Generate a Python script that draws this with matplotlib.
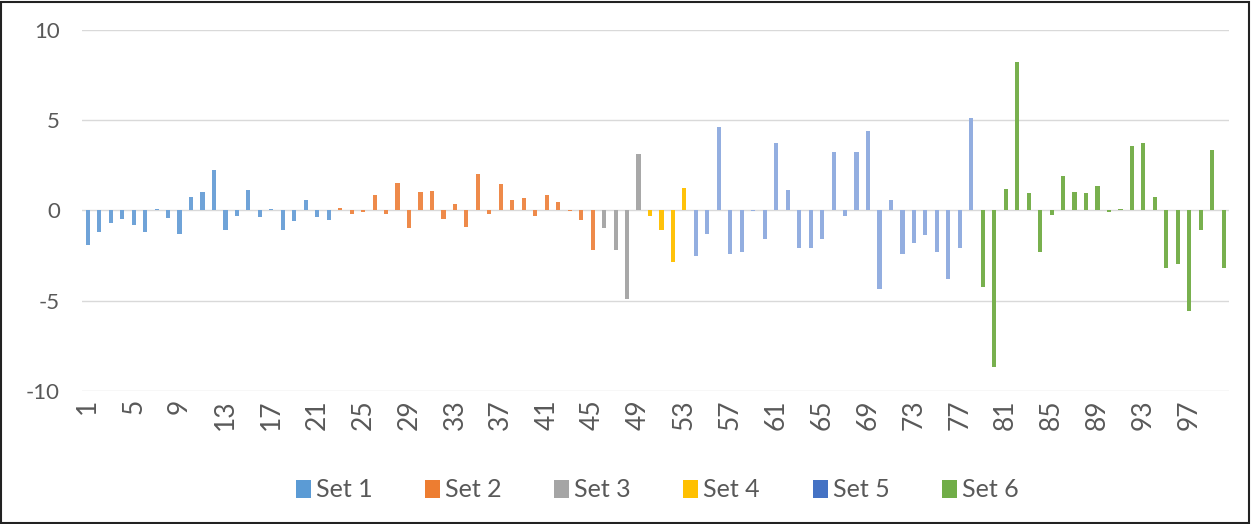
import matplotlib.pyplot as plt
from matplotlib.patches import Patch, Rectangle

plt.rcParams['font.family'] = ['Lato', 'DejaVu Sans']
plt.rcParams['axes.unicode_minus'] = False

# values per set, in category order; first category of each set
set1_start = 1
set1 = [-1.9, -1.2, -0.7, -0.5, -0.8, -1.2, 0.1, -0.4, -1.3, 0.75, 1.0, 2.25,
        -1.1, -0.3, 1.15, -0.35, 0.05, -1.1, -0.6, 0.57, -0.35, -0.55]
set2_start = 23
set2 = [0.15, -0.2, -0.1, 0.85, -0.22, 1.5, -1.0, 1.0, 1.05, -0.45, 0.37, -0.92,
        2.0, -0.2, 1.44, 0.57, 0.67, -0.3, 0.85, 0.46, -0.05, -0.54, -2.2]
set3_start = 46
set3 = [-1.0, -2.17, -4.9, 3.15]
set4_start = 50
set4 = [-0.3, -1.1, -2.87, 1.26]
set5_start = 54
set5 = [-2.54, -1.3, 4.63, -2.39, -2.3, -0.05, -1.6, 3.76, 1.13, -2.1, -2.1,
        -1.6, 3.24, -0.3, 3.24, 4.4, -4.35, 0.56, -2.39, -1.8, -1.37, -2.3,
        -3.78, -2.1, 5.1]
set6_start = 79
set6 = [-4.26, -8.7, 1.17, 8.2, 0.94, -2.28, -0.28, 1.9, 1.04, 0.94, 1.35,
        -0.1, 0.1, 3.57, 3.72, 0.74, -3.2, -2.98, -5.57, -1.1, 3.33, -3.2]

set_names = ['Set 1', 'Set 2', 'Set 3', 'Set 4', 'Set 5', 'Set 6']
legend_colors = ['#5b9bd5', '#ed7d31', '#a5a5a5', '#ffc000', '#4472c4', '#70ad47']
bar_colors = ['#6fa3d8', '#ee8a4a', '#a8a8a8', '#ffc20a', '#93aee0', '#78b04e']

n_cats = 100
tick_labels = [str(i) for i in range(1, n_cats + 1, 4)]

fig = plt.figure(figsize=(12.52, 5.24), dpi=100)
ax = fig.add_axes([0.0655, 0.254, 0.9165, 0.689])

sets = [(set1_start, set1), (set2_start, set2), (set3_start, set3),
        (set4_start, set4), (set5_start, set5), (set6_start, set6)]
for (start, vals), col in zip(sets, bar_colors):
    xs = list(range(start, start + len(vals)))
    ax.bar(xs, vals, width=0.36, color=col, zorder=3)

ax.set_xlim(0.5, n_cats + 0.5)
ax.set_ylim(-10, 10)
ax.set_yticks([-10, -5, 0, 5, 10])
ax.yaxis.grid(True, color='#d9d9d9', linewidth=1.0)
ax.set_axisbelow(True)
for s in ax.spines.values():
    s.set_visible(False)
ax.tick_params(axis='both', length=0, colors='#595959')
ax.tick_params(axis='y', pad=16, labelsize=16)
ax.tick_params(axis='x', pad=6, labelsize=19)
ax.set_xticks(list(range(1, n_cats + 1, 4)))
ax.set_xticklabels(tick_labels, rotation=90)

handles = [Patch(facecolor=c, edgecolor='none') for c in legend_colors]
fig.legend(handles, set_names, loc='center', bbox_to_anchor=(0.525, 0.065),
           ncol=6, frameon=False, fontsize=18, handlelength=0.6,
           handleheight=0.75, handletextpad=0.2, columnspacing=2.1,
           labelcolor='#595959')

fig.patches.append(Rectangle((0.001, 0.002), 0.997, 0.995, transform=fig.transFigure,
                             fill=False, edgecolor='#222222', linewidth=1.5))

fig.savefig('out.png', dpi=100)
